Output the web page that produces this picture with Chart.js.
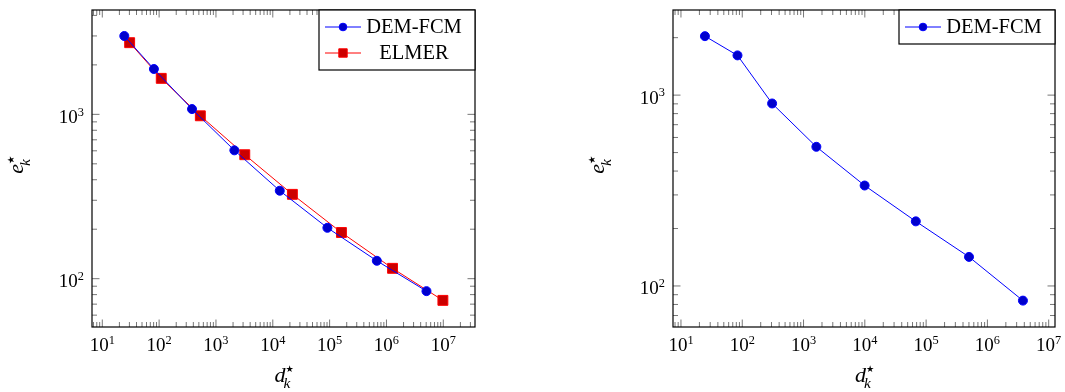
<!DOCTYPE html>
<html>
<head>
<meta charset="utf-8">
<script src="https://cdn.jsdelivr.net/npm/chart.js@4.4.0/dist/chart.umd.min.js"></script>
<style>
  html, body { margin: 0; padding: 0; background: #fff; }
  #wrap { position: relative; width: 1065px; height: 392px; }
  #wrap canvas { position: absolute; left: 0; top: 0; }
</style>
</head>
<body>
<div id="wrap">
  <canvas id="graficoEsq" width="1065" height="392"></canvas>
  <canvas id="graficoDir" width="1065" height="392"></canvas>
</div>
<script>
// ---- dados ----
const demX   = [24.4, 81, 379, 2108, 13270, 91400, 677000, 5.06e6];
const demY   = [2998, 1888, 1077, 604, 343, 204, 128.5, 84];
const elmerX = [30.3, 109, 531, 3214, 22130, 161400, 1.28e6, 9.84e6];
const elmerY = [2730, 1656, 980, 568, 326, 191, 115.6, 73.8];

const dem2X = [24.6, 83.6, 307, 1619, 9930, 67900, 501000, 3.8e6];
const dem2Y = [2037, 1615, 904, 536, 336, 218, 142, 83.8];

// expoentes das marcas principais
const xDecadas = [1, 2, 3, 4, 5, 6, 7];
const yDecadas = [2, 3];

const SERIF = "'Liberation Serif', 'Times New Roman', serif";
const AZUL = '#0000ff', AZUL_ESC = '#0000cc';
const VERM = '#ff0000', VERM_ESC = '#cc0000';

function pontos(xs, ys) {
  return xs.map((x, i) => ({ x, y: ys[i] }));
}

// base + expoente (10^n)
function potencia(ctx, exp, x, y, align, size) {
  ctx.textAlign = 'left';
  ctx.textBaseline = 'alphabetic';
  ctx.font = `${size}px ${SERIF}`;
  const wb = ctx.measureText('10').width;
  ctx.font = `${size * 0.65}px ${SERIF}`;
  const we = ctx.measureText(String(exp)).width;
  const x0 = align === 'center' ? x - (wb + we) / 2 : x - wb - we;
  ctx.font = `${size}px ${SERIF}`;
  ctx.fillText('10', x0, y);
  ctx.font = `${size * 0.65}px ${SERIF}`;
  ctx.fillText(String(exp), x0 + wb, y - size * 0.38);
}

// letra itálica com subscrito k e sobrescrito estrela, centrada em (0, 0)
function rotuloMat(ctx, letra, size) {
  ctx.textAlign = 'left';
  ctx.textBaseline = 'alphabetic';
  ctx.font = `italic ${size}px ${SERIF}`;
  const wl = ctx.measureText(letra).width;
  ctx.font = `italic ${size * 0.7}px ${SERIF}`;
  const wk = ctx.measureText('k').width;
  const x0 = -(wl + wk) / 2;
  ctx.font = `italic ${size}px ${SERIF}`;
  ctx.fillText(letra, x0, 0);
  ctx.font = `italic ${size * 0.7}px ${SERIF}`;
  ctx.fillText('k', x0 + wl - 2, size * 0.3);
  ctx.font = `${size * 0.42}px 'DejaVu Sans', sans-serif`;
  ctx.fillText('★', x0 + wl, -size * 0.42);
}

function marcador(ctx, ds, x, y, escala) {
  ctx.save();
  ctx.fillStyle = ds.pointBackgroundColor;
  ctx.strokeStyle = ds.pointBorderColor;
  ctx.lineWidth = 1;
  ctx.beginPath();
  if (ds.pointStyle === 'rect') {
    const h = ds.pointRadius * Math.SQRT1_2 * escala;
    ctx.rect(x - h, y - h, 2 * h, 2 * h);
  } else {
    ctx.arc(x, y, ds.pointRadius * escala, 0, Math.PI * 2);
  }
  ctx.fill();
  ctx.stroke();
  ctx.restore();
}

// eixos estilo pgfplots: moldura, marcas para dentro, rótulos e legenda
const eixosPgf = {
  id: 'eixosPgf',
  afterDatasetsDraw(chart) {
    const { ctx, chartArea: a, scales } = chart;
    const sx = scales.x, sy = scales.y;
    ctx.save();

    // marcas
    ctx.strokeStyle = '#777';
    ctx.lineWidth = 1;
    const marcas = (scale, fn) => {
      const lo = Math.floor(Math.log10(scale.min)), hi = Math.ceil(Math.log10(scale.max));
      for (let n = lo; n <= hi; n++) {
        for (let k = 1; k <= 9; k++) {
          const v = k * Math.pow(10, n);
          if (v < scale.min || v > scale.max) continue;
          fn(scale.getPixelForValue(v), k === 1 ? 7.5 : 5);
        }
      }
    };
    ctx.beginPath();
    marcas(sx, (px, len) => {
      ctx.moveTo(px, a.bottom); ctx.lineTo(px, a.bottom - len);
      ctx.moveTo(px, a.top); ctx.lineTo(px, a.top + len);
    });
    marcas(sy, (py, len) => {
      ctx.moveTo(a.left, py); ctx.lineTo(a.left + len, py);
      ctx.moveTo(a.right, py); ctx.lineTo(a.right - len, py);
    });
    ctx.stroke();

    // moldura
    ctx.strokeStyle = '#000';
    ctx.lineWidth = 1.2;
    ctx.strokeRect(a.left, a.top, a.right - a.left, a.bottom - a.top);

    // rótulos das marcas
    ctx.fillStyle = '#000';
    xDecadas.forEach(e => {
      const v = Math.pow(10, e);
      if (v < sx.min || v > sx.max) return;
      potencia(ctx, e, sx.getPixelForValue(v), a.bottom + 24, 'center', 19);
    });
    yDecadas.forEach(e => {
      const v = Math.pow(10, e);
      if (v < sy.min || v > sy.max) return;
      potencia(ctx, e, a.left - 8, sy.getPixelForValue(v) + 8.5, 'right', 19);
    });

    // títulos dos eixos
    ctx.save();
    ctx.translate((a.left + a.right) / 2, 381.5);
    rotuloMat(ctx, 'd', 22);
    ctx.restore();
    ctx.save();
    ctx.translate(a.left - 69, (a.top + a.bottom) / 2 - 3);
    ctx.rotate(-Math.PI / 2);
    rotuloMat(ctx, 'e', 22);
    ctx.restore();

    ctx.restore();
  },
  afterDraw(chart) {
    const { ctx, chartArea: a } = chart;
    const dss = chart.data.datasets;
    const w = 156, h = 8 + 26 * dss.length;
    const x0 = a.right - w, y0 = a.top;
    ctx.save();
    ctx.fillStyle = '#fff';
    ctx.fillRect(x0, y0, w, h);
    ctx.strokeStyle = '#000';
    ctx.lineWidth = 1.2;
    ctx.strokeRect(x0, y0, w, h);
    dss.forEach((ds, i) => {
      const cy = y0 + 17 + 26 * i;
      ctx.strokeStyle = ds.borderColor;
      ctx.lineWidth = 1;
      ctx.beginPath();
      ctx.moveTo(x0 + 6, cy); ctx.lineTo(x0 + 42, cy);
      ctx.stroke();
      marcador(ctx, ds, x0 + 24, cy, 0.85);
      ctx.fillStyle = '#000';
      ctx.font = `20.5px ${SERIF}`;
      ctx.textAlign = 'center';
      ctx.textBaseline = 'middle';
      ctx.fillText(ds.label, x0 + 95, cy + 1);
    });
    ctx.restore();
  }
};

function serie(label, xs, ys, cor, corEsc, estilo, raio) {
  return {
    label,
    data: pontos(xs, ys),
    borderColor: cor,
    borderWidth: 1,
    pointStyle: estilo,
    pointRadius: raio,
    pointHoverRadius: raio,
    pointBackgroundColor: corEsc,
    pointBorderColor: cor,
    pointBorderWidth: 1,
    tension: 0,
    fill: false
  };
}

function grafico(id, datasets, pad, xMin, xMax, yMin, yMax) {
  return new Chart(document.getElementById(id), {
    type: 'line',
    data: { datasets },
    options: {
      responsive: false,
      animation: false,
      layout: { padding: pad },
      scales: {
        x: { type: 'logarithmic', min: xMin, max: xMax, display: false },
        y: { type: 'logarithmic', min: yMin, max: yMax, display: false }
      },
      plugins: {
        legend: { display: false },
        tooltip: { enabled: false }
      }
    },
    plugins: [eixosPgf]
  });
}

grafico('graficoEsq', [
  serie('DEM-FCM', demX, demY, AZUL, AZUL_ESC, 'circle', 4.5),
  serie('ELMER', elmerX, elmerY, VERM, VERM_ESC, 'rect', 7)
], { left: 92, right: 590, top: 10, bottom: 65 },
   Math.pow(10, 0.819), Math.pow(10, 7.558), Math.pow(10, 1.706), Math.pow(10, 3.635));

grafico('graficoDir', [
  serie('DEM-FCM', dem2X, dem2Y, AZUL, AZUL_ESC, 'circle', 4.5)
], { left: 673, right: 10, top: 10, bottom: 65 },
   Math.pow(10, 0.870), Math.pow(10, 7.103), Math.pow(10, 1.785), Math.pow(10, 3.446));
</script>
</body>
</html>
